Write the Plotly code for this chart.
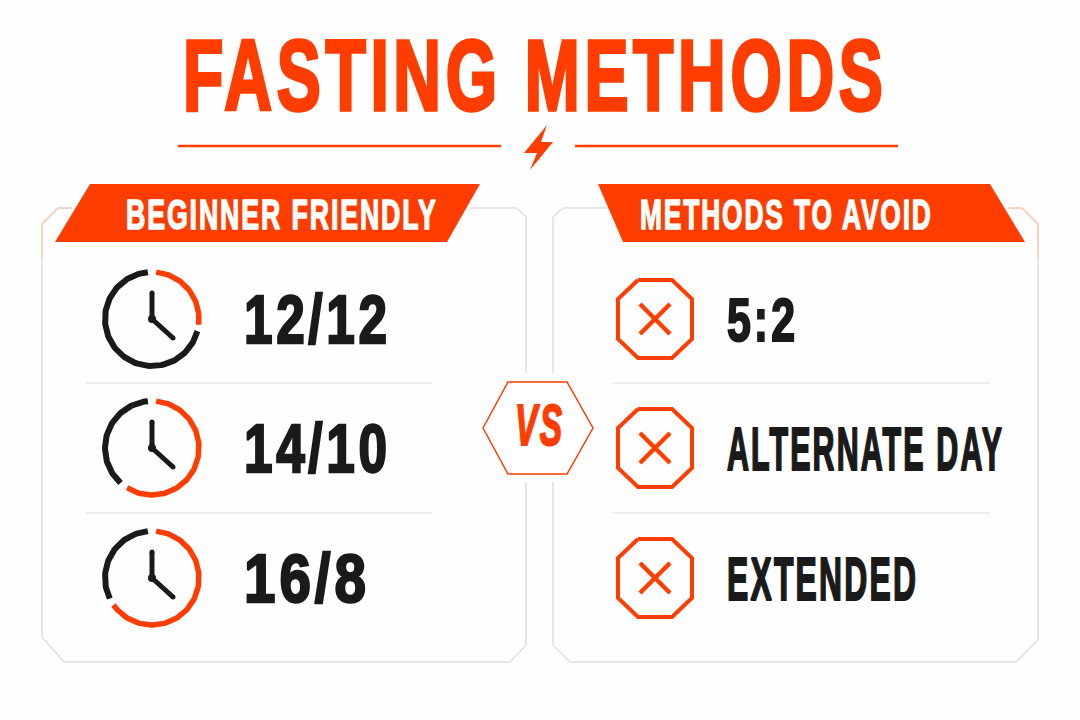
import json
import math
import plotly.graph_objects as go

ORANGE = "#ff3d00"
DARK = "#1a1a1a"
GREY = "#e0e0e0"
PEACH = "#f6c3ae"

# red part of each clock ring, degrees clockwise from 12
fasting_labels = ["12/12", "14/10", "16/8"]
red_end = [97, 212, 235]
black_start = [105, 222, 244]
avoid_labels = ["5:2", "ALTERNATE DAY", "EXTENDED"]
row_y = [319, 448, 578]

title = "FASTING METHODS"
left_header = "BEGINNER FRIENDLY"
right_header = "METHODS TO AVOID"

fig = go.Figure()


def line(xs, ys, color=GREY, width=1.5):
    fig.add_trace(go.Scatter(x=xs, y=ys, mode="lines", line=dict(color=color, width=width),
                             showlegend=False, hoverinfo="skip"))


def poly(xs, ys, fill=ORANGE, color=None, width=0):
    fig.add_trace(go.Scatter(x=xs + xs[:1], y=ys + ys[:1], mode="lines", fill="toself" if fill else None,
                             fillcolor=fill, line=dict(color=color or fill or ORANGE, width=width),
                             showlegend=False, hoverinfo="skip"))


def text(x, y, s, size, color, anchor="middle right", italic=False):
    fig.add_trace(go.Scatter(x=[x], y=[y], mode="text", text=[s], textposition=anchor,
                             textfont=dict(family="Liberation Sans Narrow, Liberation Sans", size=size, color=color,
                                           weight="bold", style="italic" if italic else "normal"),
                             showlegend=False, hoverinfo="skip"))


def arc(cx, cy, r, a0, a1, color, width):
    n = max(int(abs(a1 - a0) / 2), 2)
    angs = [math.radians(a0 + (a1 - a0) * i / n) for i in range(n + 1)]
    line([cx + r * math.sin(a) for a in angs], [cy - r * math.cos(a) for a in angs], color, width)


# panels, with a gap for the VS badge
line([42, 42, 64, 510, 526, 526], [258, 637, 662, 662, 645, 482])
line([526, 526, 517, 470], [373, 217, 208, 208])
line([553, 553, 570, 1016, 1038, 1038], [482, 645, 662, 662, 640, 258])
line([553, 553, 563, 610], [373, 217, 208, 208])
line([42, 42, 58, 72], [258, 224, 208, 208], PEACH)
line([1038, 1038, 1022, 1008], [258, 224, 208, 208], PEACH)

# title rule and bolt
line([178, 501], [146, 146], ORANGE, 2.5)
line([575, 898], [146, 146], ORANGE, 2.5)
poly([547, 524, 537, 530, 553, 541], [125, 153, 153, 170, 142, 142])

# banners
poly([90, 480, 447, 55], [184, 184, 242, 242])
poly([598, 990, 1025, 623], [184, 184, 242, 242])

# row dividers
for y in [383, 513]:
    line([85, 432], [y, y], "#dcdcdc", 1)
    line([612, 990], [y, y], "#dcdcdc", 1)

# clocks
cx = 152
for y, r_end, b_start in zip(row_y, red_end, black_start):
    arc(cx, y, 47, 5, r_end, ORANGE, 5.5)
    arc(cx, y, 47, b_start, 355, DARK, 6)
    line([cx, cx, cx + 21], [y - 26, y, y + 19], DARK, 5)
    fig.add_trace(go.Scatter(x=[cx, cx + 21], y=[y - 26, y + 19], mode="markers",
                             marker=dict(color=DARK, size=5, line=dict(width=0)),
                             showlegend=False, hoverinfo="skip"))
    fig.add_trace(go.Scatter(x=[cx], y=[y], mode="markers",
                             marker=dict(color=DARK, size=8, line=dict(width=0)),
                             showlegend=False, hoverinfo="skip"))

# stop signs
ox = 655
for y in row_y:
    poly([ox - 17, ox + 17, ox + 37, ox + 37, ox + 17, ox - 17, ox - 37, ox - 37],
         [y - 39, y - 39, y - 20, y + 20, y + 39, y + 39, y + 20, y - 20], None, ORANGE, 4)
    line([ox - 15, ox + 15], [y - 15, y + 15], ORANGE, 4.5)
    line([ox - 15, ox + 15], [y + 15, y - 15], ORANGE, 4.5)

# VS badge
poly([483, 508, 567, 593, 567, 508], [428, 382, 382, 428, 474, 474], "#ffffff", ORANGE, 1.5)

widths = {title: 700, left_header: 310, right_header: 291, "VS": 47}
text(183, 85, title, 100, ORANGE)
text(126, 218.5, left_header, 43, "#ffffff")
text(640, 218.5, right_header, 43, "#ffffff")
text(515, 431, "VS", 58, ORANGE, italic=True)
for y, s, w in zip(row_y, fasting_labels, [143, 143, 122]):
    text(244, y + 7.5, s, 68, DARK)
    widths[s] = w
for y, s, w in zip(row_y, avoid_labels, [68, 275, 189]):
    text(727, y + 7, s, 61, DARK)
    widths[s] = w

fig.update_xaxes(range=[0, 1080], visible=False, fixedrange=True)
fig.update_yaxes(range=[720, 0], visible=False, fixedrange=True)
fig.update_layout(width=1080, height=720, margin=dict(l=0, r=0, t=0, b=0),
                  paper_bgcolor="#fefefe", plot_bgcolor="#fefefe", showlegend=False)

post = """
document.body.style.margin = '0';
var widths = %s;
document.querySelectorAll('.textpoint text').forEach(function (t) {
    var w = widths[t.textContent];
    if (!w) return;
    var size = parseFloat(t.style.fontSize);
    var spacing = size * 0.07;
    t.style.letterSpacing = spacing + 'px';
    t.style.stroke = t.style.fill;
    t.style.strokeWidth = (size * 0.035) + 'px';
    t.style.strokeLinejoin = 'miter';
    var box = t.getBBox();
    var s = w / (box.width - spacing);
    t.setAttribute('transform', 'translate(' + box.x + ' 0) scale(' + s + ' 1) translate(' + (-box.x) + ' 0)');
});
""" % json.dumps(widths)

fig.write_html("out.html", post_script=post, config={"displayModeBar": False})
